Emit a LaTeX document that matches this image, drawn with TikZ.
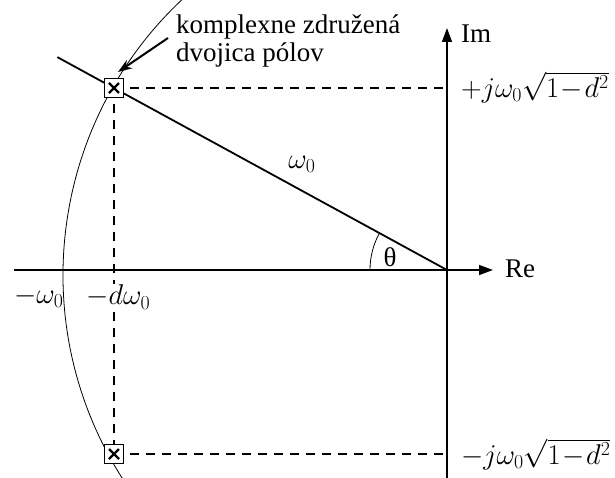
\documentclass[tikz,border=0pt]{standalone}
\usepackage{fontspec}
\setmainfont{Liberation Serif}
\usetikzlibrary{arrows.meta}
\tikzset{
  axis/.style={line width=1.5pt,-{Triangle[length=14pt,width=10pt]}},
  radial/.style={line width=1.8pt},
  thinarc/.style={line width=0.8pt},
  guide/.style={line width=1.5pt,dash pattern=on 9pt off 7pt},
  polebox/.style={draw,fill=white,line width=1.3pt,minimum size=19pt,inner sep=0pt},
  lbl/.style={font=\fontsize{27}{28}\selectfont,inner sep=0pt},
  mlbl/.style={font=\fontsize{24}{28}\selectfont,inner sep=0pt,scale=1.15},
}
\begin{document}
\begin{tikzpicture}[x=1pt,y=1pt]
\clip (-447,-207) rectangle (168,270);
\fill[white] (-447,-207) rectangle (168,270);
\coordinate (O) at (0,0);
\coordinate (C) at (-6,-5);
\coordinate (reL) at (-433,0);
\coordinate (reR) at (46,0);
\coordinate (imB) at (0,-210);
\coordinate (imT) at (0,242);
\coordinate (rs) at (151.35:444);
\coordinate (p1) at (-333,182);
\coordinate (p2) at (-333,-184);
\coordinate (h1) at (0,182);
\coordinate (h2) at (0,-184);
\coordinate (as) at (-279,232);
\coordinate (ae) at (-329,198);
% circle arc
\draw[thinarc] ([shift={(128:378)}]C) arc[start angle=128,end angle=218,radius=378];
% angle arc
\draw[thinarc] (180:77) arc[start angle=180,end angle=151.35,radius=77];
% axes
\draw[axis] (reL) -- (reR);
\draw[axis] (imB) -- (imT);
% radial line
\draw[radial] (rs) -- (O);
% dashed guides
\draw[guide] (p1) -- (h1);
\draw[guide] (p2) -- (h2);
\draw[guide] (p1) -- (p2);
% poles
\node[polebox] (P1) at (p1) {};
\node[polebox] (P2) at (p2) {};
\foreach \p in {P1,P2}{
  \draw[line width=2.2pt] ([shift={(-5,-5)}]\p.center) -- ([shift={(5,5)}]\p.center);
  \draw[line width=2.2pt] ([shift={(-5,5)}]\p.center) -- ([shift={(5,-5)}]\p.center);
}
% annotation arrow
\draw[line width=2pt,-{Stealth[length=14pt,width=10pt]}] (as) -- (ae);
\node[lbl,anchor=west,align=left] (note) at (-271,229) {komplexne združená\\dvojica pólov};
% labels
\node[lbl,anchor=west] (im) at (14,236) {Im};
\node[lbl,anchor=west] (re) at (58,1) {Re};
\node[lbl] (th) at (-57,13) {θ};
\node[mlbl] (w0) at (-145,106) {$\omega_0$};
\node[mlbl,anchor=west] (mw) at (-433,-27) {$-\omega_0$};
\node[mlbl,anchor=west,fill=white,inner sep=1pt] (mdw) at (-362,-27) {$-d\omega_0$};
\node[mlbl,anchor=west] (pj) at (14,183) {$+j\omega_0\sqrt{1\!-\!d^2}$};
\node[mlbl,anchor=west] (mj) at (14,-184) {$-j\omega_0\sqrt{1\!-\!d^2}$};
\end{tikzpicture}
\end{document}
